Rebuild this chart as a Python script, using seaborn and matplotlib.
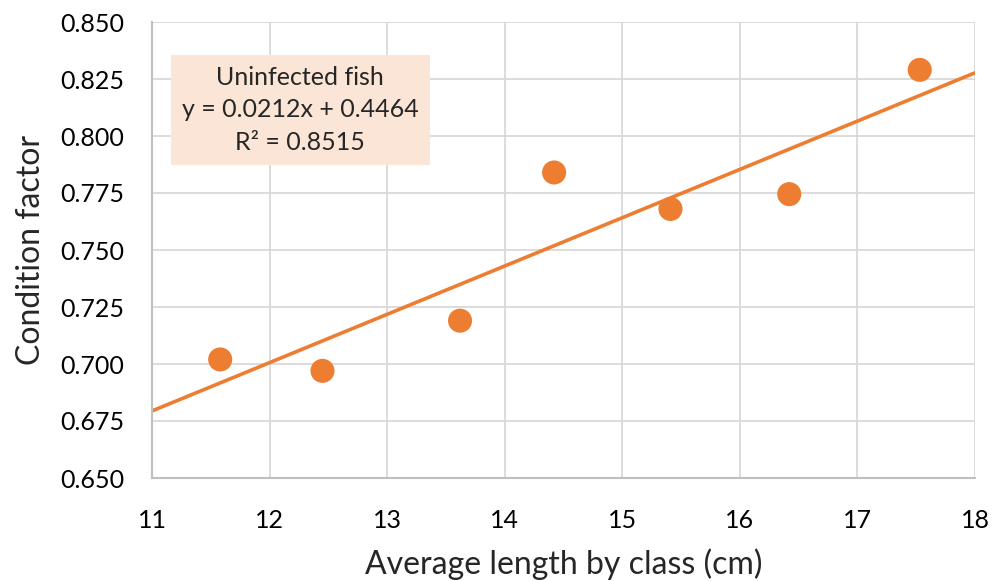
import numpy as np
import pandas as pd
import seaborn as sns
import matplotlib.pyplot as plt

# values
length    = [11.58, 12.45, 13.62, 14.42, 15.41, 16.42, 17.53]
condition = [0.702, 0.697, 0.719, 0.784, 0.768, 0.7745, 0.829]
x_ticks   = [11, 12, 13, 14, 15, 16, 17, 18]
y_ticks   = [0.650, 0.675, 0.700, 0.725, 0.750, 0.775, 0.800, 0.825, 0.850]
box_text  = "Uninfected fish\ny = 0.0212x + 0.4464\nR² = 0.8515"

orange = "#ED7D31"
grid   = "#D9D9D9"

sns.set_style("whitegrid", {"grid.color": grid, "axes.edgecolor": grid})
plt.rcParams['font.family'] = ['Lato', 'DejaVu Sans']

df = pd.DataFrame({"length": length, "condition": condition})

fig = plt.figure(figsize=(10, 5.81), dpi=100)
ax = fig.add_axes([0.152, 1 - 478 / 581, 0.823, (478 - 22) / 581])
ax.set_xlim(11, 18)
ax.set_ylim(0.650, 0.850)

sns.regplot(data=df, x="length", y="condition", scatter=False, ci=None,
            truncate=False, color=orange, line_kws={"lw": 2.6}, ax=ax)
sns.scatterplot(data=df, x="length", y="condition", color=orange, s=300,
                edgecolor="none", zorder=3, ax=ax)

ax.set_xlim(11, 18)
ax.set_ylim(0.650, 0.850)
ax.set_xticks(x_ticks)
ax.set_yticks(y_ticks)
ax.set_yticklabels(["%.3f" % v for v in y_ticks])
ax.tick_params(axis="x", labelsize=18, pad=22, length=0, colors="#000000")
ax.tick_params(axis="y", labelsize=18, pad=20, length=0, colors="#000000")
ax.grid(True, color=grid, lw=1.3)
for side in ["top", "right"]:
    ax.spines[side].set_visible(False)
for side in ["left", "bottom"]:
    ax.spines[side].set_color("#BFBFBF")
    ax.spines[side].set_linewidth(1.5)

ax.set_xlabel("Average length by class (cm)", fontsize=23, labelpad=12)
ax.set_ylabel("Condition factor", fontsize=23, labelpad=10)

ax.text(12.26, 0.8115, box_text, ha="center", va="center", fontsize=18,
        linespacing=1.5,
        bbox=dict(boxstyle="square,pad=0.45", fc="#FBE5D6", ec="none"),
        zorder=5)

fig.savefig("out.png", dpi=100)
